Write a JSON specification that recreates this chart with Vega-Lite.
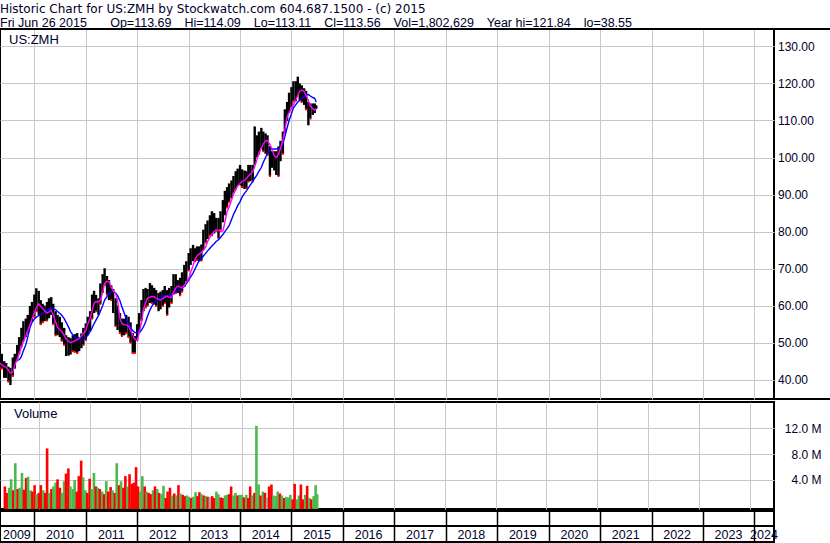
{
  "$schema": "https://vega.github.io/schema/vega-lite/v6.json",
  "background": "white",
  "padding": {"left": -2, "top": 2, "right": 0, "bottom": 0},
  "autosize": {"type": "pad"},
  "spacing": 0,
  "title": {
    "text": "Historic Chart for US:ZMH by Stockwatch.com 604.687.1500 - (c) 2015",
    "subtitle": "Fri Jun 26 2015\u00a0\u00a0\u00a0\u00a0\u00a0\u00a0\u2009Op=113.69\u00a0\u00a0\u00a0\u2009Hi=114.09\u00a0\u00a0\u00a0\u2009Lo=113.11\u00a0\u00a0\u00a0\u2009Cl=113.56\u00a0\u00a0\u00a0\u2009Vol=1,802,629\u00a0\u00a0\u00a0\u2009Year hi=121.84\u00a0\u00a0\u00a0\u2009lo=38.55",
    "anchor": "start", "frame": "bounds", "dx": 2,
    "font": "DejaVu Sans", "fontSize": 12, "fontWeight": "normal", "color": "#00002A",
    "subtitleFont": "Liberation Sans", "subtitleFontSize": 12.5, "subtitleColor": "#00002A", "subtitlePadding": 1.5,
    "offset": -3.5
  },
  "config": {
    "view": {"stroke": "black", "strokeWidth": 2},
    "axis": {"labelFont": "Liberation Sans", "labelFontSize": 12, "labelColor": "#00002A", "title": null}
  },
  "resolve": {"scale": {"x": "independent", "y": "independent"}},
  "datasets": {
    "p": [
      {"d": "2009-05-01", "h": 46.9, "l": 43, "v": 3.0, "s": "d", "m1": 44.5, "m2": null},
      {"d": "2009-05-15", "h": 47, "l": 43, "v": 2.0, "s": "d", "m1": 44, "m2": null},
      {"d": "2009-06-01", "h": 45, "l": 40.5, "v": 2.8, "s": "u", "m1": 43.6, "m2": null},
      {"d": "2009-06-15", "h": 44.5, "l": 40.5, "v": 4.1, "s": "u", "m1": 43.3, "m2": null},
      {"d": "2009-07-01", "h": 43.5, "l": 39.5, "v": 2.4, "s": "d", "m1": 42.6, "m2": null},
      {"d": "2009-07-15", "h": 43.2, "l": 38.55, "v": 6.6, "s": "u", "m1": 41.8, "m2": null},
      {"d": "2009-08-01", "h": 46, "l": 41, "v": 2.6, "s": "d", "m1": 42, "m2": null},
      {"d": "2009-08-15", "h": 47, "l": 43, "v": 2.8, "s": "u", "m1": 44, "m2": null},
      {"d": "2009-09-01", "h": 49.4, "l": 45, "v": 5.1, "s": "u", "m1": 45.5, "m2": null},
      {"d": "2009-09-15", "h": 51.5, "l": 47, "v": 2.5, "s": "d", "m1": 47.2, "m2": 45.3},
      {"d": "2009-10-01", "h": 54, "l": 49, "v": 4.3, "s": "d", "m1": 48.7, "m2": 46.3},
      {"d": "2009-10-15", "h": 55.8, "l": 50.4, "v": 4.5, "s": "u", "m1": 50.3, "m2": 47.8},
      {"d": "2009-11-01", "h": 56.5, "l": 51.5, "v": 2.4, "s": "u", "m1": 51.8, "m2": 49.4},
      {"d": "2009-11-15", "h": 57.5, "l": 52.5, "v": 2.2, "s": "d", "m1": 53.3, "m2": 51.5},
      {"d": "2009-12-01", "h": 59.9, "l": 54.7, "v": 3.2, "s": "d", "m1": 54.8, "m2": 54},
      {"d": "2009-12-15", "h": 61, "l": 55.5, "v": 1.8, "s": "u", "m1": 56.4, "m2": 55.5},
      {"d": "2010-01-01", "h": 63, "l": 57, "v": 2.0, "s": "d", "m1": 58, "m2": 56.4},
      {"d": "2010-01-15", "h": 64.7, "l": 58.5, "v": 3.2, "s": "d", "m1": 59.5, "m2": 56.9},
      {"d": "2010-02-01", "h": 64, "l": 57.5, "v": 2.4, "s": "u", "m1": 60.5, "m2": 57.3},
      {"d": "2010-02-15", "h": 61.5, "l": 55, "v": 2.0, "s": "d", "m1": 59.8, "m2": 57.6},
      {"d": "2010-03-01", "h": 60.5, "l": 55.5, "v": 8.9, "s": "d", "m1": 59.2, "m2": 58},
      {"d": "2010-03-15", "h": 60, "l": 55.8, "v": 2.0, "s": "u", "m1": 58.6, "m2": 58.4},
      {"d": "2010-04-01", "h": 61, "l": 56, "v": 2.6, "s": "d", "m1": 58, "m2": 58.8},
      {"d": "2010-04-15", "h": 62, "l": 56.6, "v": 3.0, "s": "u", "m1": 58.3, "m2": 59.1},
      {"d": "2010-05-01", "h": 62.3, "l": 57.5, "v": 3.6, "s": "u", "m1": 58.8, "m2": 59.3},
      {"d": "2010-05-15", "h": 60.5, "l": 55, "v": 4.1, "s": "d", "m1": 57.5, "m2": 59.2},
      {"d": "2010-06-01", "h": 58.5, "l": 52, "v": 2.8, "s": "d", "m1": 55.6, "m2": 58.9},
      {"d": "2010-06-15", "h": 57.5, "l": 52, "v": 2.0, "s": "u", "m1": 54.1, "m2": 58.4},
      {"d": "2010-07-01", "h": 57, "l": 51.5, "v": 3.8, "s": "u", "m1": 53.5, "m2": 57.9},
      {"d": "2010-07-15", "h": 55.5, "l": 50.5, "v": 5.0, "s": "d", "m1": 53, "m2": 57.4},
      {"d": "2010-08-01", "h": 54, "l": 49.4, "v": 5.8, "s": "d", "m1": 52, "m2": 56.5},
      {"d": "2010-08-15", "h": 52, "l": 46.4, "v": 3.0, "s": "u", "m1": 51, "m2": 55.5},
      {"d": "2010-09-01", "h": 51.5, "l": 46.5, "v": 2.6, "s": "u", "m1": 50.3, "m2": 54.2},
      {"d": "2010-09-15", "h": 51.2, "l": 46.8, "v": 4.0, "s": "u", "m1": 50, "m2": 53},
      {"d": "2010-10-01", "h": 52, "l": 47.7, "v": 2.2, "s": "d", "m1": 50.2, "m2": 52.1},
      {"d": "2010-10-15", "h": 52.3, "l": 47.5, "v": 4.6, "s": "d", "m1": 50.5, "m2": 51.5},
      {"d": "2010-11-01", "h": 52.6, "l": 47.2, "v": 7.0, "s": "d", "m1": 50.8, "m2": 51.1},
      {"d": "2010-11-15", "h": 51.5, "l": 47.7, "v": 4.4, "s": "u", "m1": 51.2, "m2": 50.8},
      {"d": "2010-12-01", "h": 52.5, "l": 48.5, "v": 2.4, "s": "u", "m1": 51.8, "m2": 50.7},
      {"d": "2010-12-15", "h": 54, "l": 49.4, "v": 2.0, "s": "d", "m1": 52.5, "m2": 50.8},
      {"d": "2011-01-01", "h": 55.2, "l": 50.7, "v": 4.2, "s": "d", "m1": 53.2, "m2": 51.3},
      {"d": "2011-01-15", "h": 57, "l": 52, "v": 2.6, "s": "u", "m1": 55, "m2": 52},
      {"d": "2011-02-01", "h": 58.5, "l": 53.1, "v": 5.1, "s": "u", "m1": 56.6, "m2": 53},
      {"d": "2011-02-15", "h": 63, "l": 56.5, "v": 3.0, "s": "d", "m1": 58.5, "m2": 54},
      {"d": "2011-03-01", "h": 64, "l": 58, "v": 2.8, "s": "u", "m1": 60.6, "m2": 55.1},
      {"d": "2011-03-15", "h": 62.9, "l": 58.5, "v": 2.6, "s": "d", "m1": 61.1, "m2": 56.1},
      {"d": "2011-04-01", "h": 62, "l": 57.5, "v": 2.2, "s": "u", "m1": 61, "m2": 57.3},
      {"d": "2011-04-15", "h": 66, "l": 60.5, "v": 1.8, "s": "d", "m1": 61.5, "m2": 58.5},
      {"d": "2011-05-01", "h": 68.5, "l": 63.5, "v": 3.8, "s": "u", "m1": 63.5, "m2": 60},
      {"d": "2011-05-15", "h": 70.1, "l": 65.5, "v": 2.2, "s": "d", "m1": 66, "m2": 61.5},
      {"d": "2011-06-01", "h": 68, "l": 63, "v": 2.9, "s": "d", "m1": 66.6, "m2": 62.5},
      {"d": "2011-06-15", "h": 66.9, "l": 61.5, "v": 2.4, "s": "u", "m1": 66.5, "m2": 63.2},
      {"d": "2011-07-01", "h": 65.5, "l": 61.5, "v": 2.0, "s": "d", "m1": 65, "m2": 63.7},
      {"d": "2011-07-15", "h": 64.5, "l": 58, "v": 6.6, "s": "u", "m1": 64, "m2": 63.9},
      {"d": "2011-08-01", "h": 62, "l": 54.5, "v": 3.2, "s": "d", "m1": 63.3, "m2": 63.4},
      {"d": "2011-08-15", "h": 60, "l": 53.4, "v": 3.8, "s": "u", "m1": 61.5, "m2": 62.7},
      {"d": "2011-09-01", "h": 58, "l": 52.6, "v": 2.8, "s": "d", "m1": 56.5, "m2": 61.3},
      {"d": "2011-09-15", "h": 56.5, "l": 51.8, "v": 4.6, "s": "d", "m1": 55.2, "m2": 59.6},
      {"d": "2011-10-01", "h": 56.5, "l": 52, "v": 3.0, "s": "u", "m1": 54.8, "m2": 58},
      {"d": "2011-10-15", "h": 57.5, "l": 52.6, "v": 4.9, "s": "d", "m1": 54.8, "m2": 56.4},
      {"d": "2011-11-01", "h": 57, "l": 51.5, "v": 3.4, "s": "d", "m1": 54.5, "m2": 55.1},
      {"d": "2011-11-15", "h": 55.5, "l": 50, "v": 3.6, "s": "d", "m1": 53.3, "m2": 54.1},
      {"d": "2011-12-01", "h": 52.6, "l": 47.2, "v": 6.0, "s": "d", "m1": 52, "m2": 53.2},
      {"d": "2011-12-15", "h": 51.8, "l": 47.2, "v": 3.0, "s": "d", "m1": 51, "m2": 52.8},
      {"d": "2012-01-01", "h": 55, "l": 50.5, "v": 2.2, "s": "u", "m1": 50.5, "m2": 52.6},
      {"d": "2012-01-15", "h": 58, "l": 53, "v": 4.6, "s": "u", "m1": 52.6, "m2": 52.6},
      {"d": "2012-02-01", "h": 61.5, "l": 56.1, "v": 3.0, "s": "d", "m1": 55.5, "m2": 53.4},
      {"d": "2012-02-15", "h": 64.5, "l": 58.5, "v": 2.2, "s": "u", "m1": 59, "m2": 54.3},
      {"d": "2012-03-01", "h": 64.8, "l": 59.5, "v": 2.0, "s": "d", "m1": 60.8, "m2": 55.6},
      {"d": "2012-03-15", "h": 64.5, "l": 60, "v": 1.8, "s": "d", "m1": 62, "m2": 57.2},
      {"d": "2012-04-01", "h": 66.1, "l": 60.7, "v": 2.4, "s": "u", "m1": 62.3, "m2": 58.8},
      {"d": "2012-04-15", "h": 65.5, "l": 60.7, "v": 3.0, "s": "d", "m1": 62.5, "m2": 59.9},
      {"d": "2012-05-01", "h": 64.8, "l": 60.3, "v": 2.6, "s": "u", "m1": 62.4, "m2": 60.8},
      {"d": "2012-05-15", "h": 64.2, "l": 59.9, "v": 2.0, "s": "d", "m1": 62, "m2": 61.4},
      {"d": "2012-06-01", "h": 63.4, "l": 58.5, "v": 1.8, "s": "u", "m1": 61.7, "m2": 61.8},
      {"d": "2012-06-15", "h": 63.8, "l": 59, "v": 3.1, "s": "u", "m1": 61.5, "m2": 62.2},
      {"d": "2012-07-01", "h": 64.2, "l": 59.9, "v": 1.2, "s": "d", "m1": 61.9, "m2": 62.6},
      {"d": "2012-07-15", "h": 65.3, "l": 60.7, "v": 2.2, "s": "d", "m1": 62.3, "m2": 62.6},
      {"d": "2012-08-01", "h": 64.2, "l": 57.5, "v": 2.8, "s": "d", "m1": 62.6, "m2": 62.6},
      {"d": "2012-08-15", "h": 64.8, "l": 59.5, "v": 1.6, "s": "u", "m1": 62.3, "m2": 62.9},
      {"d": "2012-09-01", "h": 65.3, "l": 60.7, "v": 1.9, "s": "d", "m1": 62.2, "m2": 63.2},
      {"d": "2012-09-15", "h": 68.5, "l": 63, "v": 1.6, "s": "u", "m1": 63.6, "m2": 63.5},
      {"d": "2012-10-01", "h": 68.5, "l": 63.4, "v": 3.2, "s": "d", "m1": 64.7, "m2": 63.8},
      {"d": "2012-10-15", "h": 66.9, "l": 63.4, "v": 1.9, "s": "u", "m1": 65.3, "m2": 64},
      {"d": "2012-11-01", "h": 67.5, "l": 62.8, "v": 1.7, "s": "d", "m1": 65, "m2": 64.2},
      {"d": "2012-11-15", "h": 69, "l": 63.8, "v": 1.5, "s": "d", "m1": 64.8, "m2": 64.7},
      {"d": "2012-12-01", "h": 71, "l": 65, "v": 1.6, "s": "u", "m1": 65.5, "m2": 65.3},
      {"d": "2012-12-15", "h": 72, "l": 66.6, "v": 1.4, "s": "u", "m1": 66.3, "m2": 65.9},
      {"d": "2013-01-01", "h": 74.2, "l": 69.5, "v": 1.2, "s": "d", "m1": 67.2, "m2": 66.8},
      {"d": "2013-01-15", "h": 75.5, "l": 71, "v": 1.4, "s": "u", "m1": 69, "m2": 67.8},
      {"d": "2013-02-01", "h": 76.4, "l": 72, "v": 2.1, "s": "u", "m1": 70.8, "m2": 68.8},
      {"d": "2013-02-15", "h": 75.5, "l": 72, "v": 1.5, "s": "d", "m1": 72.5, "m2": 69.9},
      {"d": "2013-03-01", "h": 76, "l": 72.3, "v": 2.1, "s": "d", "m1": 73.4, "m2": 71},
      {"d": "2013-03-15", "h": 76, "l": 72, "v": 1.8, "s": "u", "m1": 73.9, "m2": 72},
      {"d": "2013-04-01", "h": 76.5, "l": 72.2, "v": 1.6, "s": "d", "m1": 74.3, "m2": 72.6},
      {"d": "2013-04-15", "h": 80.5, "l": 75, "v": 1.5, "s": "u", "m1": 75, "m2": 73.4},
      {"d": "2013-05-01", "h": 82, "l": 77, "v": 1.4, "s": "d", "m1": 75.8, "m2": 74.1},
      {"d": "2013-05-15", "h": 83, "l": 78, "v": 1.3, "s": "f", "m1": 77.3, "m2": 74.8},
      {"d": "2013-06-01", "h": 84.4, "l": 79, "v": 1.5, "s": "d", "m1": 78.5, "m2": 75.5},
      {"d": "2013-06-15", "h": 85.5, "l": 79, "v": 1.2, "s": "d", "m1": 79.3, "m2": 76.1},
      {"d": "2013-07-01", "h": 85, "l": 79.5, "v": 2.2, "s": "u", "m1": 80, "m2": 76.7},
      {"d": "2013-07-15", "h": 83.7, "l": 80, "v": 1.8, "s": "u", "m1": 80.5, "m2": 77.3},
      {"d": "2013-08-01", "h": 83.7, "l": 78.2, "v": 1.3, "s": "d", "m1": 80.3, "m2": 77.8},
      {"d": "2013-08-15", "h": 85.5, "l": 80.5, "v": 1.2, "s": "d", "m1": 80, "m2": 78.4},
      {"d": "2013-09-01", "h": 88.5, "l": 82.5, "v": 1.6, "s": "u", "m1": 80.2, "m2": 79.2},
      {"d": "2013-09-15", "h": 91, "l": 84.4, "v": 1.7, "s": "u", "m1": 82.5, "m2": 80},
      {"d": "2013-10-01", "h": 92, "l": 86.5, "v": 1.8, "s": "d", "m1": 85.5, "m2": 80.8},
      {"d": "2013-10-15", "h": 93, "l": 88, "v": 3.0, "s": "d", "m1": 86.5, "m2": 81.6},
      {"d": "2013-11-01", "h": 93.8, "l": 89, "v": 1.6, "s": "u", "m1": 88.5, "m2": 83.2},
      {"d": "2013-11-15", "h": 95, "l": 90.5, "v": 2.0, "s": "u", "m1": 90, "m2": 84.6},
      {"d": "2013-12-01", "h": 96.3, "l": 91.5, "v": 1.6, "s": "d", "m1": 91.3, "m2": 85.8},
      {"d": "2013-12-15", "h": 97, "l": 92.5, "v": 1.7, "s": "u", "m1": 92.3, "m2": 87},
      {"d": "2014-01-01", "h": 98, "l": 92.5, "v": 1.7, "s": "u", "m1": 93, "m2": 88.1},
      {"d": "2014-01-15", "h": 96.8, "l": 92, "v": 1.3, "s": "d", "m1": 93.5, "m2": 89.3},
      {"d": "2014-02-01", "h": 96.5, "l": 91.5, "v": 1.7, "s": "u", "m1": 93.8, "m2": 90.3},
      {"d": "2014-02-15", "h": 96.3, "l": 91.7, "v": 1.2, "s": "d", "m1": 94.3, "m2": 91},
      {"d": "2014-03-01", "h": 98, "l": 93.5, "v": 3.0, "s": "d", "m1": 95, "m2": 91.8},
      {"d": "2014-03-15", "h": 98, "l": 93.6, "v": 1.6, "s": "u", "m1": 95.5, "m2": 92.6},
      {"d": "2014-04-01", "h": 98, "l": 93.6, "v": 2.0, "s": "d", "m1": 96.2, "m2": 93.5},
      {"d": "2014-04-15", "h": 108.4, "l": 98, "v": 12.4, "s": "u", "m1": 97.5, "m2": 94.4},
      {"d": "2014-05-01", "h": 106, "l": 100, "v": 3.3, "s": "u", "m1": 99.5, "m2": 95.3},
      {"d": "2014-05-15", "h": 107, "l": 101, "v": 1.6, "s": "d", "m1": 101.2, "m2": 96.3},
      {"d": "2014-06-01", "h": 108, "l": 102.5, "v": 2.2, "s": "u", "m1": 102.5, "m2": 97.3},
      {"d": "2014-06-15", "h": 107, "l": 101.7, "v": 2.0, "s": "d", "m1": 103.7, "m2": 98.7},
      {"d": "2014-07-01", "h": 106.5, "l": 101, "v": 1.3, "s": "f", "m1": 104.5, "m2": 100},
      {"d": "2014-07-15", "h": 106, "l": 100.7, "v": 3.0, "s": "d", "m1": 104.6, "m2": 101.2},
      {"d": "2014-08-01", "h": 103, "l": 95, "v": 3.3, "s": "d", "m1": 103.5, "m2": 102},
      {"d": "2014-08-15", "h": 101.7, "l": 97.2, "v": 1.6, "s": "u", "m1": 102.3, "m2": 102.3},
      {"d": "2014-09-01", "h": 101.7, "l": 96.5, "v": 1.5, "s": "u", "m1": 100.5, "m2": 102.3},
      {"d": "2014-09-15", "h": 101.7, "l": 95.3, "v": 2.2, "s": "u", "m1": 100, "m2": 102.3},
      {"d": "2014-10-01", "h": 103, "l": 95, "v": 1.9, "s": "d", "m1": 100.8, "m2": 102.4},
      {"d": "2014-10-15", "h": 104.5, "l": 99, "v": 1.6, "s": "u", "m1": 102.5, "m2": 102.6},
      {"d": "2014-11-01", "h": 107, "l": 101, "v": 1.2, "s": "d", "m1": 104.6, "m2": 103.8},
      {"d": "2014-11-15", "h": 113, "l": 106.5, "v": 1.4, "s": "u", "m1": 107.5, "m2": 105.6},
      {"d": "2014-12-01", "h": 115, "l": 109.8, "v": 1.3, "s": "u", "m1": 111, "m2": 108},
      {"d": "2014-12-15", "h": 117.5, "l": 112, "v": 1.7, "s": "u", "m1": 112.2, "m2": 110},
      {"d": "2015-01-01", "h": 119, "l": 113.5, "v": 1.0, "s": "d", "m1": 113.3, "m2": 111.8},
      {"d": "2015-01-15", "h": 120.6, "l": 115.2, "v": 3.4, "s": "d", "m1": 114.3, "m2": 113.4},
      {"d": "2015-02-01", "h": 120.6, "l": 115.2, "v": 1.0, "s": "u", "m1": 115.5, "m2": 114.3},
      {"d": "2015-02-15", "h": 121.84, "l": 116.9, "v": 1.6, "s": "u", "m1": 116.8, "m2": 115},
      {"d": "2015-03-01", "h": 120, "l": 115.5, "v": 3.3, "s": "d", "m1": 117.9, "m2": 115.5},
      {"d": "2015-03-15", "h": 119.5, "l": 115, "v": 1.0, "s": "d", "m1": 118.2, "m2": 116},
      {"d": "2015-04-01", "h": 118.7, "l": 114.2, "v": 1.7, "s": "u", "m1": 117.8, "m2": 116.4},
      {"d": "2015-04-15", "h": 118, "l": 113, "v": 3.1, "s": "d", "m1": 116.8, "m2": 116.9},
      {"d": "2015-05-01", "h": 115, "l": 108.7, "v": 1.2, "s": "u", "m1": 115.3, "m2": 117},
      {"d": "2015-05-15", "h": 114.6, "l": 110.5, "v": 1.0, "s": "d", "m1": 113.9, "m2": 116.6},
      {"d": "2015-06-01", "h": 114.6, "l": 111.5, "v": 1.5, "s": "u", "m1": 113.2, "m2": 116.2},
      {"d": "2015-06-15", "h": 114.6, "l": 112, "v": 3.2, "s": "u", "m1": 112.8, "m2": 116},
      {"d": "2015-06-26", "h": 114.09, "l": 113.11, "v": 1.8, "s": "u", "m1": 113.3, "m2": 115}
    ],
    "yr": [
      {"y": "2009", "m": "2009-08-30"},
      {"y": "2010", "m": "2010-07-02"},
      {"y": "2011", "m": "2011-07-02"},
      {"y": "2012", "m": "2012-07-02"},
      {"y": "2013", "m": "2013-07-02"},
      {"y": "2014", "m": "2014-07-02"},
      {"y": "2015", "m": "2015-07-02"},
      {"y": "2016", "m": "2016-07-02"},
      {"y": "2017", "m": "2017-07-02"},
      {"y": "2018", "m": "2018-07-02"},
      {"y": "2019", "m": "2019-07-02"},
      {"y": "2020", "m": "2020-07-02"},
      {"y": "2021", "m": "2021-07-02"},
      {"y": "2022", "m": "2022-07-02"},
      {"y": "2023", "m": "2023-07-02"},
      {"y": "2024", "m": "2024-03-10"}
    ]
  },
  "vconcat": [
    {
      "width": 774, "height": 370,
      "data": {"name": "p"},
      "layer": [
        {
          "mark": {"type": "rule", "color": "black", "strokeWidth": 2.4, "clip": true},
          "encoding": {
            "x": {"field": "d", "type": "temporal", "scale": {"domain": [{"year": 2009, "month": 5, "date": 2}, {"year": 2024, "month": 5, "date": 20}]},
                  "axis": {"grid": true, "gridColor": "#C8C8C8", "gridWidth": 1, "labels": false, "ticks": false, "domain": false, "tickCount": {"interval": "year", "step": 1}}},
            "y": {"field": "l", "type": "quantitative", "scale": {"domain": [34.79, 134.7], "zero": false, "nice": false},
                  "axis": {"orient": "right", "values": [40,45,50,55,60,65,70,75,80,85,90,95,100,105,110,115,120,125,130], "format": ".2f", "grid": true, "gridColor": "#C8C8C8", "gridWidth": 1, "ticks": false, "domain": false, "labelPadding": 3.5}},
            "y2": {"field": "h"}
          }
        },
        {
          "transform": [{"filter": "datum.s == 'd'"}],
          "mark": {"type": "square", "color": "#FF0000", "size": 4, "opacity": 1, "clip": true},
          "encoding": {
            "x": {"field": "d", "type": "temporal"},
            "y": {"field": "l", "type": "quantitative"}
          }
        },
        {
          "mark": {"type": "line", "color": "#0000FF", "strokeWidth": 1.4, "clip": true},
          "encoding": {
            "x": {"field": "d", "type": "temporal"},
            "y": {"field": "m2", "type": "quantitative"}
          }
        },
        {
          "mark": {"type": "line", "color": "#FF00FF", "strokeWidth": 1.4, "clip": true},
          "encoding": {
            "x": {"field": "d", "type": "temporal"},
            "y": {"field": "m1", "type": "quantitative"}
          }
        },
        {
          "data": {"values": [{"t": "US:ZMH"}]},
          "mark": {"type": "text", "font": "Liberation Sans", "fontSize": 13, "color": "#00002A", "align": "left", "baseline": "middle", "dx": 9},
          "encoding": {
            "x": {"datum": {"year": 2009, "month": 5, "date": 2}, "type": "temporal"},
            "y": {"datum": 131.8, "type": "quantitative"},
            "text": {"field": "t"}
          }
        },
        {
          "data": {"values": [{"a": 1}]},
          "mark": {"type": "rule", "color": "black", "strokeWidth": 2},
          "encoding": {
            "x": {"datum": {"year": 2009, "month": 5, "date": 2}, "type": "temporal"},
            "x2": {"datum": {"year": 2025, "month": 8, "date": 1}},
            "y": {"datum": 134.7, "type": "quantitative"}
          }
        },
        {
          "data": {"values": [{"a": 1}]},
          "mark": {"type": "rule", "color": "black", "strokeWidth": 2},
          "encoding": {
            "x": {"datum": {"year": 2024, "month": 5, "date": 20}, "type": "temporal"},
            "x2": {"datum": {"year": 2025, "month": 8, "date": 1}},
            "y": {"datum": 34.79, "type": "quantitative"}
          }
        }
      ]
    },
    {
      "width": 774, "height": 107,
      "data": {"name": "p"},
      "layer": [
        {
          "mark": {"type": "bar", "width": 2.6, "clip": true},
          "encoding": {
            "x": {"field": "d", "type": "temporal", "scale": {"domain": [{"year": 2009, "month": 5, "date": 2}, {"year": 2024, "month": 5, "date": 20}]},
                  "axis": {"grid": true, "gridColor": "#C8C8C8", "gridWidth": 1, "labels": false, "ticks": false, "domain": false, "tickCount": {"interval": "year", "step": 1}}},
            "y": {"field": "v", "type": "quantitative", "scale": {"domain": [-0.5, 16.1], "zero": false, "nice": false},
                  "axis": {"orient": "right", "values": [4, 8, 12], "labelExpr": "format(datum.value, '.1f') + ' M'", "labelAlign": "right", "labelPadding": 47, "grid": true, "gridColor": "#C8C8C8", "gridWidth": 1, "ticks": false, "domain": false}},
            "y2": {"datum": -0.5},
            "color": {"field": "s", "type": "nominal", "scale": {"domain": ["u", "d", "f"], "range": ["#4DB84D", "#FF0000", "#A9A9A9"]}, "legend": null}
          }
        },
        {
          "data": {"values": [{"t": "Volume"}]},
          "mark": {"type": "text", "font": "Liberation Sans", "fontSize": 13, "color": "#00002A", "align": "left", "baseline": "middle", "dx": 9},
          "encoding": {
            "x": {"datum": {"year": 2009, "month": 5, "date": 2}, "type": "temporal"},
            "y": {"datum": 14.3, "type": "quantitative"},
            "text": {"field": "t"}
          }
        }
      ]
    },
    {
      "width": 774, "height": 31,
      "data": {"name": "yr"},
      "layer": [
        {
          "data": {"values": [{"a": 1}]},
          "mark": {"type": "rule", "color": "black", "strokeWidth": 2},
          "encoding": {
            "y": {"datum": 16, "type": "quantitative", "scale": {"domain": [0, 31], "nice": false, "zero": false}, "axis": null}
          }
        },
        {
          "mark": {"type": "text", "font": "Liberation Sans", "fontSize": 12.5, "color": "#00002A", "baseline": "middle", "align": "center"},
          "encoding": {
            "x": {"field": "m", "type": "temporal", "scale": {"domain": [{"year": 2009, "month": 5, "date": 2}, {"year": 2024, "month": 5, "date": 20}]},
                  "axis": {"grid": true, "gridColor": "black", "gridWidth": 1.5, "labels": false, "ticks": false, "domain": false, "tickCount": {"interval": "year", "step": 1}}},
            "y": {"datum": 7.5, "type": "quantitative"},
            "text": {"field": "y"}
          }
        }
      ]
    }
  ]
}
